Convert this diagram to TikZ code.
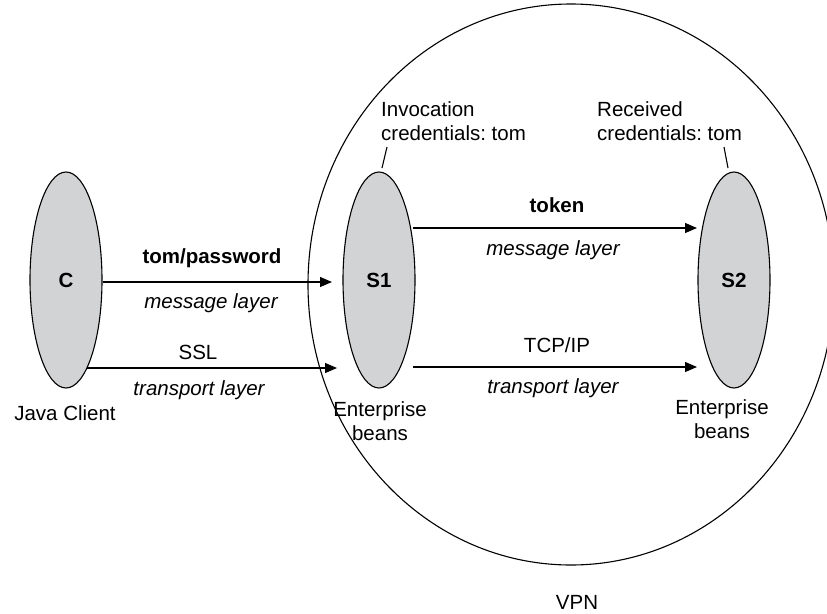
\documentclass[tikz,border=0pt]{standalone}
\usepackage{fontspec}
\setmainfont{Liberation Sans}
\usetikzlibrary{shapes.geometric,arrows.meta}
\definecolor{ellgray}{RGB}{210,211,213}
\frenchspacing
\begin{document}
\begin{tikzpicture}[x=1pt,y=-1pt,
  every node/.style={font=\fontsize{20.5}{24}\selectfont, inner sep=0pt},
  proc/.style={ellipse, draw, line width=1.1pt, fill=ellgray, minimum width=72pt, minimum height=216pt, font=\fontsize{20.5}{24}\selectfont\bfseries},
  conn/.style={line width=1.1pt, -{Triangle[length=12pt,width=10pt]}},
  lead/.style={line width=1.1pt},
  lbl/.style={align=center},
  mlbl/.style={align=left, anchor=west}]
\useasboundingbox (0,0) rectangle (827,613);
\clip (0,0) rectangle (827,613);
% VPN boundary
\node[ellipse, draw, line width=1.1pt, minimum width=526pt, minimum height=561pt] (vpn) at (571,284.5) {};
% processes
\node[proc] (C) at (66,280) {C};
\node[proc] (S1) at (379,280) {S1};
\node[proc] (S2) at (734,280) {S2};
% connector end points
\coordinate (a1) at (332,282);
\coordinate (b0) at (87,368);
\coordinate (b1) at (337,368);
\coordinate (c0) at (413,228);
\coordinate (c1) at (697,228);
\coordinate (d0) at (413,367);
\coordinate (d1) at (697,367);
\draw[conn] (C.east |- a1) -- (a1);
\draw[conn] (b0) -- (b1);
\draw[conn] (c0) -- (c1);
\draw[conn] (d0) -- (d1);
% labels on connectors
\node[lbl, font=\fontsize{20.5}{24}\selectfont\bfseries] (l1) at (212,258) {tom/password};
\node[lbl, font=\fontsize{20.5}{24}\selectfont\itshape] (l2) at (211,303) {message layer};
\node[lbl] (l3) at (198,352) {SSL};
\node[lbl, font=\fontsize{20.5}{24}\selectfont\itshape] (l4) at (199,390) {transport layer};
\node[lbl, font=\fontsize{20.5}{24}\selectfont\bfseries] (l5) at (557,205) {token};
\node[lbl, font=\fontsize{20.5}{24}\selectfont\itshape] (l6) at (553,250) {message layer};
\node[lbl] (l7) at (557,345) {TCP/IP};
\node[lbl, font=\fontsize{20.5}{24}\selectfont\itshape] (l8) at (553,388) {transport layer};
% credential notes
\node[mlbl] (inv) at (381,121) {Invocation\\credentials: tom};
\node[mlbl] (rec) at (597,121) {Received\\credentials: tom};
\coordinate (inv1) at (387,147);
\coordinate (inv2) at (382,168);
\coordinate (rec1) at (724,147);
\coordinate (rec2) at (728,168);
\draw[lead] (inv1) -- (inv2);
\draw[lead] (rec1) -- (rec2);
% names
\node[lbl] (jc) at (65,413) {Java Client};
\node[lbl] (eb1) at (380,421) {Enterprise\\beans};
\node[lbl] (eb2) at (722,419) {Enterprise\\beans};
\node[lbl] (vpnl) at (577,602) {VPN};
\end{tikzpicture}
\end{document}
